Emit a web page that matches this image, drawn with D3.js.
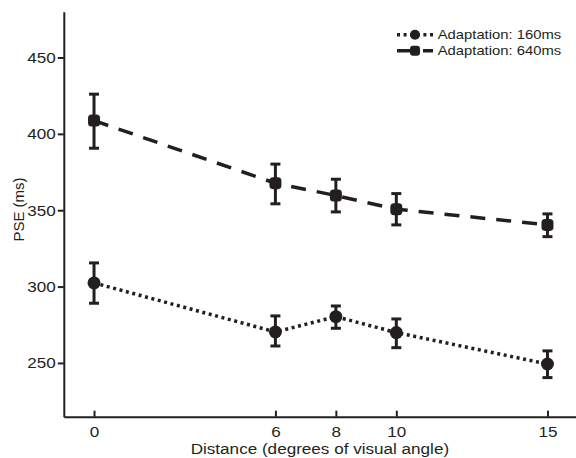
<!DOCTYPE html>
<html>
<head>
<meta charset="utf-8">
<script src="https://cdn.jsdelivr.net/npm/d3@7"></script>
<style>
  body { margin: 0; background: #ffffff; }
  svg { display: block; }
</style>
</head>
<body>
<svg id="chart" width="576" height="458"></svg>
<script>
// data
let distances = [0, 6, 8, 10, 15];
let xTicks = [0, 6, 8, 10, 15];
let yTicks = [250, 300, 350, 400, 450];

let pse160 = [302.4, 270.3, 280.3, 269.9, 249.3];
let err160Low = [289.1, 261.1, 272.7, 260.0, 240.4];
let err160High = [315.5, 280.8, 287.3, 278.8, 257.9];

let pse640 = [408.7, 367.7, 359.6, 350.7, 340.4];
let err640Low = [390.6, 354.2, 348.9, 340.4, 332.7];
let err640High = [426.0, 380.2, 370.3, 360.9, 347.6];

let seriesNames = ["Adaptation: 160ms", "Adaptation: 640ms"];

let inkColor = "#231f20";
let fontFamily = "'Liberation Sans', Arial, Helvetica, sans-serif";
// the original figure is a little stretched sideways, so horizontal text is widened
let textStretch = "scale(1.14,1)";

let svg = d3.select("#chart");

let x = d3.scaleLinear()
  .domain([-1, 16])
  .range([63.8, 577.7]);
let y = d3.scaleLinear()
  .domain([214.8, 480])
  .range([416.7, 11.7]);

function buildSeries(vals, lows, highs) {
  return distances.map((d, i) => ({dist: d, pse: vals[i], lo: lows[i], hi: highs[i]}));
}

let series = [
  {name: seriesNames[0], data: buildSeries(pse160, err160Low, err160High), dash: "3,3.6", marker: "circle"},
  {name: seriesNames[1], data: buildSeries(pse640, err640Low, err640High), dash: "15,11", marker: "square"}
];

// axes
let yAxis = svg.append("g")
  .attr("transform", "translate(" + x(-1) + ",0)")
  .call(d3.axisLeft(y).tickValues(yTicks).tickSize(6).tickPadding(1).tickSizeOuter(0));
let xAxis = svg.append("g")
  .attr("transform", "translate(0," + y(214.8) + ")")
  .call(d3.axisBottom(x).tickValues(xTicks).tickSize(-6).tickPadding(9.5).tickSizeOuter(0));

[xAxis, yAxis].forEach(g => {
  g.select(".domain").attr("stroke", inkColor).attr("stroke-width", 2);
  g.selectAll(".tick line").attr("stroke", inkColor).attr("stroke-width", 2);
  g.selectAll(".tick text")
    .attr("fill", inkColor)
    .attr("transform", textStretch)
    .style("font-size", "15px")
    .style("font-family", fontFamily);
});
xAxis.selectAll(".tick text").attr("dy", "0.71em");

// axis titles
let xMid = (x(-1) + 576) / 2;
svg.append("text")
  .attr("transform", "translate(" + xMid + ",454) " + textStretch)
  .text("Distance (degrees of visual angle)")
  .attr("fill", inkColor)
  .style("text-anchor", "middle")
  .style("font-size", "15px")
  .style("font-family", fontFamily);
svg.append("text")
  .attr("transform", "translate(24,209.5) rotate(-90)")
  .text("PSE (ms)")
  .attr("fill", inkColor)
  .style("text-anchor", "middle")
  .style("font-size", "15px")
  .style("font-family", fontFamily);

let line = d3.line()
  .x(d => x(d.dist))
  .y(d => y(d.pse));

function drawMarker(g, kind, cx, cy, size) {
  if (kind === "circle") {
    g.append("circle")
      .attr("cx", cx)
      .attr("cy", cy)
      .attr("r", size / 2)
      .style("fill", inkColor);
  } else {
    g.append("rect")
      .attr("x", cx - size / 2)
      .attr("y", cy - size / 2)
      .attr("width", size)
      .attr("height", size)
      .attr("rx", size * 0.3)
      .style("fill", inkColor);
  }
}

series.forEach(s => {
  let g = svg.append("g");

  g.append("path")
    .datum(s.data)
    .attr("d", line)
    .style("fill", "none")
    .style("stroke", inkColor)
    .style("stroke-width", 3.5)
    .style("stroke-dasharray", s.dash);

  // error bars
  let bars = g.selectAll(".err")
    .data(s.data)
    .enter()
    .append("g");
  bars.append("line")
    .attr("x1", d => x(d.dist))
    .attr("x2", d => x(d.dist))
    .attr("y1", d => y(d.lo))
    .attr("y2", d => y(d.hi))
    .style("stroke", inkColor)
    .style("stroke-width", 3);
  bars.selectAll(".cap")
    .data(d => [d.lo, d.hi].map(v => ({dist: d.dist, v: v})))
    .enter()
    .append("line")
      .attr("x1", d => x(d.dist) - 5)
      .attr("x2", d => x(d.dist) + 5)
      .attr("y1", d => y(d.v))
      .attr("y2", d => y(d.v))
      .style("stroke", inkColor)
      .style("stroke-width", 3);

  s.data.forEach(d => drawMarker(g, s.marker, x(d.dist), y(d.pse), s.marker === "circle" ? 13 : 12));
});

// legend
let legendY = [34.7, 50.7];
series.forEach((s, i) => {
  let lg = svg.append("g");
  lg.append("line")
    .attr("x1", 397)
    .attr("x2", 433)
    .attr("y1", legendY[i])
    .attr("y2", legendY[i])
    .style("stroke", inkColor)
    .style("stroke-width", 3.5)
    .style("stroke-dasharray", s.dash);
  drawMarker(lg, s.marker, 415, legendY[i], 10);
  lg.append("text")
    .attr("transform", "translate(437.7," + legendY[i] + ") " + textStretch)
    .attr("dy", "0.36em")
    .text(s.name)
    .attr("fill", inkColor)
    .style("font-size", "13px")
    .style("font-family", fontFamily);
});
</script>
</body>
</html>
